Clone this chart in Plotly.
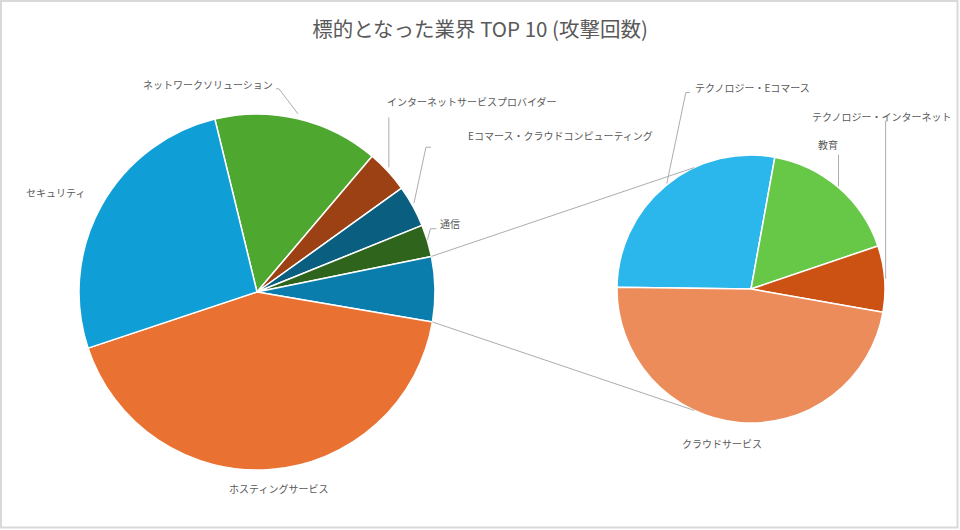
import math
import plotly.graph_objects as go

# ---------------- data ----------------
main_categories = ["ネットワークソリューション", "インターネットサービスプロバイダー",
                   "Eコマース・クラウドコンピューティング", "通信",
                   "ホスティングサービス", "セキュリティ"]
main_values = [150, 39, 38, 29, 422, 263]

sub_categories = ["テクノロジー・Eコマース", "教育", "テクノロジー・インターネット", "クラウドサービス"]
sub_values = [16.3, 10.0, 4.7, 28.0]

other_label = "その他"
title_text = "標的となった業界 TOP 10 (攻撃回数)"

# ---------------- style ----------------
W, H = 960, 530
main_colors = ["#4EA72E", "#9C4114", "#0A5F80", "#2F641C", "#E97132", "#0F9ED5"]
other_color = "#0B7DAC"
sub_colors = ["#2BB6EC", "#66C846", "#CC5214", "#EC8C5B"]
text_color = "#595959"
line_color = "#ADADAD"
FONT = "Noto Sans CJK JP"

main_dom_x = [79 / W, 435 / W]
main_dom_y = [(H - 470) / H, (H - 114) / H]
sub_dom_x = [617 / W, 885 / W]
sub_dom_y = [(H - 423) / H, (H - 155) / H]
main_rotation = -13.7
sub_rotation = -89.2
other_index = 4  # position of the "other" slice within the main pie

# build main pie lists (other slice = sum of secondary pie)
pie_labels = main_categories[:other_index] + [other_label] + main_categories[other_index:]
pie_values = main_values[:other_index] + [sum(sub_values)] + main_values[other_index:]
pie_colors = main_colors[:other_index] + [other_color] + main_colors[other_index:]


def geom(dx, dy):
    cx = W * (dx[0] + dx[1]) / 2
    cy = H * (1 - (dy[0] + dy[1]) / 2)
    r = min(W * (dx[1] - dx[0]), H * (dy[1] - dy[0])) / 2
    return cx, cy, r


def slice_angles(values, rotation):
    tot = sum(values)
    a = rotation
    out = []
    for v in values:
        b = a + 360 * v / tot
        out.append((a, b))
        a = b
    return out


def rim(cx, cy, r, ang):
    t = math.radians(ang)
    return cx + r * math.sin(t), cy - r * math.cos(t)


def P(x, y):
    return x / W, 1 - y / H


mcx, mcy, mr = geom(main_dom_x, main_dom_y)
scx, scy, sr = geom(sub_dom_x, sub_dom_y)
m_ang = slice_angles(pie_values, main_rotation)
s_ang = slice_angles(sub_values, sub_rotation)

fig = go.Figure()
fig.add_trace(go.Pie(labels=pie_labels, values=pie_values, sort=False, direction="clockwise",
                     rotation=main_rotation, domain=dict(x=main_dom_x, y=main_dom_y),
                     marker=dict(colors=pie_colors, line=dict(color="white", width=1.5)),
                     textinfo="none", hoverinfo="label+value", showlegend=False))
fig.add_trace(go.Pie(labels=sub_categories, values=sub_values, sort=False, direction="clockwise",
                     rotation=sub_rotation, domain=dict(x=sub_dom_x, y=sub_dom_y),
                     marker=dict(colors=sub_colors, line=dict(color="white", width=1.5)),
                     textinfo="none", hoverinfo="label+value", showlegend=False))

# label placement style: (text offset x, y, xanchor, leader polyline offsets)
main_label_style = {
    "ネットワークソリューション": (-23, -34, "right", [(0, -5), (-19, -30), (-22, -30)]),
    "インターネットサービスプロバイダー": (-3, -70, "left", [(1, -4), (1, -54)]),
    "Eコマース・クラウドコンピューティング": (53, -71, "left", [(1, -3), (13, -59), (18, -59)]),
    "通信": (11, -17, "left", [(0, -1), (3, -12), (9, -12)]),
    "ホスティングサービス": (8, 19, "center", []),
    "セキュリティ": (-46, -13, "center", []),
}
sub_label_style = {
    "テクノロジー・Eコマース": (27, -98, "left", [(1, -2), (20, -93), (24, -93)]),
    "教育": (-10, -43, "center", [(0, -1), (0, -33)]),
    "テクノロジー・インターネット": (68, -162, "right", [(1, 0), (1, -158)]),
    "クラウドサービス": (-16, 21, "center", []),
}

shapes = []
annotations = []


def add_labels(labels, angs, cx, cy, r, styles):
    for lab, (a0, a1) in zip(labels, angs):
        if lab not in styles:
            continue
        ax, ay = rim(cx, cy, r, (a0 + a1) / 2)
        tx, ty, xa, pts = styles[lab]
        x, y = P(ax + tx, ay + ty)
        annotations.append(dict(x=x, y=y, xref="paper", yref="paper", text=lab, showarrow=False,
                                xanchor=xa, yanchor="middle",
                                font=dict(family=FONT, size=10, color=text_color)))
        if pts:
            path = ""
            for i, (ox, oy) in enumerate(pts):
                px, py = P(ax + ox, ay + oy)
                path += ("M" if i == 0 else " L") + f" {px:.5f} {py:.5f}"
            shapes.append(dict(type="path", xref="paper", yref="paper", path=path,
                               line=dict(color=line_color, width=1)))


add_labels(pie_labels, m_ang, mcx, mcy, mr, main_label_style)
add_labels(sub_categories, s_ang, scx, scy, sr, sub_label_style)

# connector lines between the "other" slice and the secondary pie
oa0, oa1 = m_ang[other_index]
for ma, sa in ((oa0, -25.0), (oa1, 205.0)):
    x0, y0 = P(*rim(mcx, mcy, mr, ma))
    x1, y1 = P(*rim(scx, scy, sr, sa))
    shapes.append(dict(type="line", xref="paper", yref="paper", x0=x0, y0=y0, x1=x1, y1=y1,
                       line=dict(color=line_color, width=1)))

# outer frame
shapes.append(dict(type="rect", xref="paper", yref="paper", x0=1 / W, y0=2.5 / H,
                   x1=(W - 2.5) / W, y1=1 - 1 / H, line=dict(color="#D9D9D9", width=2)))

fig.update_layout(
    width=W, height=H, autosize=False,
    margin=dict(l=0, r=0, t=0, b=0),
    paper_bgcolor="white", plot_bgcolor="white",
    title=dict(text=title_text, x=0.5, xanchor="center", y=1 - 30 / H, yanchor="middle",
               font=dict(family=FONT, size=20.5, color=text_color)),
    shapes=shapes, annotations=annotations,
)
fig.write_html("out.html", config={"displayModeBar": False},
               post_script="document.body.style.margin='0';document.body.style.overflow='hidden';")
